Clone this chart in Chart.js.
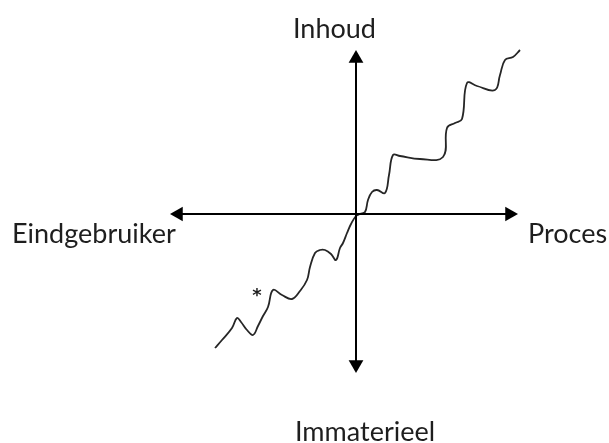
<!DOCTYPE html>
<html>
<head>
<meta charset="utf-8">
<script src="https://cdn.jsdelivr.net/npm/chart.js@4"></script>
<style>
html,body{margin:0;padding:0;background:#fff;}
#wrap{width:609px;height:443px;position:relative;}
</style>
</head>
<body>
<div id="wrap"><canvas id="c"></canvas></div>
<script>
// Wavy curve (origin at the axes' crossing)
const curveX = [-141,-134,-124,-119,-115,-109,-103,-98,-93,-88,-83,-74,-64,-56,-49,-46,-41,-36,-31,-25,-20,-16,-13,-9,-5,0,4,9,12,16,21,29,33,37,44,64,87,91,99,106,111,121,139,144,149,157,164];
const curveY = [-134,-126,-114,-104,-108,-116,-121,-112,-102,-93,-76,-81,-85,-77,-66,-53,-39,-36,-36,-40,-46,-34,-29,-19,-10,-2,0,2,14,22,24,21,39,59,58,55,57,86,91,95,131,128,124,139,154,157,164];

// Axis extents (arrow tips)
const axisLeft = -186, axisRight = 162, axisTop = 164, axisBottom = -159;

// Axis labels
const labelTexts = ["Inhoud", "Eindgebruiker", "Proces", "Immaterieel"];
const labelX = [-63, -344, 172, -61];
const labelY = [176, -29, -29, -227];

// Asterisk marker
const starX = [-99];
const starY = [-79];

const curve = curveX.map((x, i) => ({x, y: curveY[i]}));
const head = 8.5;

const labelPlugin = {
  id: 'labels',
  afterDatasetsDraw(chart) {
    const ctx = chart.ctx, xs = chart.scales.x, ys = chart.scales.y;
    ctx.save();
    ctx.fillStyle = '#1e1e1e';
    ctx.font = '27px Lato';
    ctx.textAlign = 'left';
    ctx.textBaseline = 'alphabetic';
    labelTexts.forEach((t, i) => {
      ctx.fillText(t, xs.getPixelForValue(labelX[i]), ys.getPixelForValue(labelY[i]));
    });
    ctx.font = 'bold 18px "DejaVu Sans"';
    ctx.textAlign = 'center';
    ctx.textBaseline = 'middle';
    starX.forEach((x, i) => {
      ctx.fillText('*', xs.getPixelForValue(x), ys.getPixelForValue(starY[i]) + 3);
    });
    ctx.restore();
  }
};

new Chart(document.getElementById('c'), {
  type: 'scatter',
  data: {
    datasets: [
      {
        data: [{x: axisLeft + head, y: 0}, {x: axisRight - head, y: 0}],
        showLine: true, borderColor: '#000', borderWidth: 2, pointRadius: 0
      },
      {
        data: [{x: 0, y: axisTop - head}, {x: 0, y: axisBottom + head}],
        showLine: true, borderColor: '#000', borderWidth: 2, pointRadius: 0
      },
      {
        data: [{x: axisLeft + head, y: 0}, {x: axisRight - head, y: 0}, {x: 0, y: axisTop - head}, {x: 0, y: axisBottom + head}],
        showLine: false, pointStyle: 'triangle', pointRadius: head,
        pointRotation: [-90, 90, 0, 180],
        backgroundColor: '#000', borderColor: '#000', borderWidth: 0
      },
      {
        data: curve,
        showLine: true, borderColor: '#262626', borderWidth: 1.8,
        pointRadius: 0, tension: 0.4, cubicInterpolationMode: 'default'
      }
    ]
  },
  options: {
    responsive: true,
    maintainAspectRatio: false,
    animation: false,
    layout: {padding: 0, autoPadding: false},
    plugins: {legend: {display: false}, tooltip: {enabled: false}},
    scales: {
      x: {type: 'linear', min: -356, max: 253, display: false},
      y: {type: 'linear', min: -229, max: 214, display: false}
    }
  },
  plugins: [labelPlugin]
});
</script>
</body>
</html>
